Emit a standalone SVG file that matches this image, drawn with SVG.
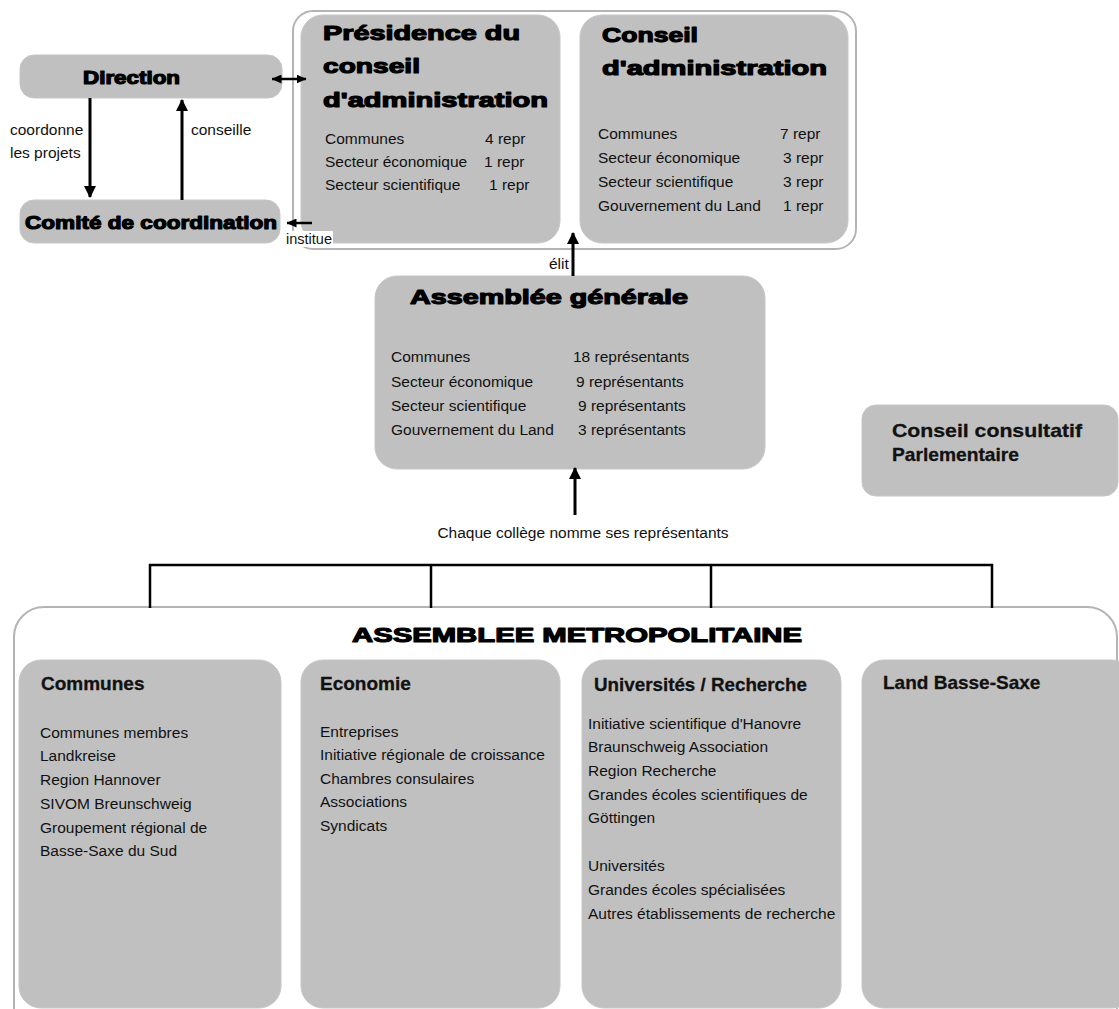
<svg xmlns="http://www.w3.org/2000/svg" width="1119" height="1009" viewBox="0 0 1119 1009">
<defs>
<marker id="ah" markerUnits="userSpaceOnUse" markerWidth="12" markerHeight="12" viewBox="0 0 12 12" refX="11" refY="6" orient="auto-start-reverse">
<path d="M0,0 L12,6 L0,12 z" fill="#000"/>
</marker>
<marker id="ahs" markerUnits="userSpaceOnUse" markerWidth="10" markerHeight="9" viewBox="0 0 10 9" refX="9.5" refY="4.5" orient="auto-start-reverse">
<path d="M0,0 L10,4.5 L0,9 z" fill="#000"/>
</marker>
</defs>
<style>
.box{fill:#c0c0c0;stroke:#c6c6c6;stroke-width:1}
.cont{fill:#fff;stroke:#b4b4b4;stroke-width:2}
.heavy{font-family:"Liberation Sans",Arial,sans-serif;font-weight:bold;fill:#000;stroke:#000;stroke-width:1.2;stroke-linejoin:round}
.hd{font-family:"Liberation Sans",Arial,sans-serif;font-weight:bold;font-size:19px;fill:#111;stroke:#111;stroke-width:0.3}
.t{font-family:"Liberation Sans",Arial,sans-serif;font-size:15.5px;fill:#111}
.conn{stroke:#000;fill:none}
</style>
<rect width="1119" height="1009" fill="#fff"/>

<g id="top-container">
<rect class="cont" x="293" y="11" width="563" height="238" rx="20"/>
</g>

<g id="direction">
<rect class="box" x="20" y="55" width="262" height="43" rx="14"/>
<text class="heavy" x="83" y="84" font-size="18" textLength="97" lengthAdjust="spacingAndGlyphs">Direction</text>
</g>

<g id="comite">
<rect class="box" x="20" y="200" width="260" height="43" rx="14"/>
<text class="heavy" x="25" y="229" font-size="19" textLength="252" lengthAdjust="spacingAndGlyphs">Comité de coordination</text>
</g>

<g id="presidence">
<rect class="box" x="301" y="15" width="259" height="228" rx="22"/>
<text class="heavy" x="323" y="40" font-size="21" textLength="197" lengthAdjust="spacingAndGlyphs">Présidence du</text>
<text class="heavy" x="323" y="73" font-size="21" textLength="97" lengthAdjust="spacingAndGlyphs">conseil</text>
<text class="heavy" x="323" y="107" font-size="21" textLength="225" lengthAdjust="spacingAndGlyphs">d'administration</text>
<text class="t" x="325" y="144">Communes</text><text class="t" x="485" y="144">4 repr</text>
<text class="t" x="325" y="167">Secteur économique</text><text class="t" x="484" y="167">1 repr</text>
<text class="t" x="325" y="190">Secteur scientifique</text><text class="t" x="489" y="190">1 repr</text>
</g>

<g id="conseil-administration">
<rect class="box" x="580" y="15" width="268" height="228" rx="22"/>
<text class="heavy" x="602" y="42" font-size="21" textLength="96" lengthAdjust="spacingAndGlyphs">Conseil</text>
<text class="heavy" x="602" y="75" font-size="21" textLength="225" lengthAdjust="spacingAndGlyphs">d'administration</text>
<text class="t" x="598" y="139">Communes</text><text class="t" x="780" y="139">7 repr</text>
<text class="t" x="598" y="163">Secteur économique</text><text class="t" x="783" y="163">3 repr</text>
<text class="t" x="598" y="187">Secteur scientifique</text><text class="t" x="783" y="187">3 repr</text>
<text class="t" x="598" y="211">Gouvernement du Land</text><text class="t" x="783" y="211">1 repr</text>
</g>

<g id="assemblee-generale">
<rect class="box" x="375" y="276" width="390" height="193" rx="22"/>
<text class="heavy" x="410" y="304" font-size="21" textLength="278" lengthAdjust="spacingAndGlyphs">Assemblée générale</text>
<text class="t" x="391" y="362">Communes</text><text class="t" x="573" y="362">18 représentants</text>
<text class="t" x="391" y="387">Secteur économique</text><text class="t" x="576" y="387">9 représentants</text>
<text class="t" x="391" y="411">Secteur scientifique</text><text class="t" x="578" y="411">9 représentants</text>
<text class="t" x="391" y="435">Gouvernement du Land</text><text class="t" x="578" y="435">3 représentants</text>
</g>

<g id="conseil-consultatif">
<rect class="box" x="862" y="405" width="256" height="91" rx="14"/>
<text class="hd" x="892" y="437" textLength="190" lengthAdjust="spacingAndGlyphs">Conseil consultatif</text>
<text class="hd" x="892" y="461" textLength="127" lengthAdjust="spacingAndGlyphs">Parlementaire</text>
</g>

<g id="assemblee-metropolitaine">
<rect class="cont" x="14" y="607" width="1103" height="440" rx="30"/>
<text class="heavy" x="352" y="642" font-size="21" textLength="450" lengthAdjust="spacingAndGlyphs">ASSEMBLEE METROPOLITAINE</text>
</g>

<g id="col-communes">
<rect class="box" x="19" y="660" width="262" height="348" rx="22"/>
<text class="hd" x="41" y="690">Communes</text>
<text class="t" x="40" y="738">Communes membres</text>
<text class="t" x="40" y="761">Landkreise</text>
<text class="t" x="40" y="785">Region Hannover</text>
<text class="t" x="40" y="809">SIVOM Breunschweig</text>
<text class="t" x="40" y="833">Groupement régional de</text>
<text class="t" x="40" y="856">Basse-Saxe du Sud</text>
</g>

<g id="col-economie">
<rect class="box" x="301" y="660" width="259" height="348" rx="22"/>
<text class="hd" x="320" y="690">Economie</text>
<text class="t" x="320" y="737">Entreprises</text>
<text class="t" x="320" y="760">Initiative régionale de croissance</text>
<text class="t" x="320" y="784">Chambres consulaires</text>
<text class="t" x="320" y="807">Associations</text>
<text class="t" x="320" y="831">Syndicats</text>
</g>

<g id="col-universites">
<rect class="box" x="582" y="660" width="259" height="348" rx="22"/>
<text class="hd" x="594" y="691" textLength="213" lengthAdjust="spacingAndGlyphs">Universités / Recherche</text>
<text class="t" x="588" y="729">Initiative scientifique d'Hanovre</text>
<text class="t" x="588" y="752">Braunschweig Association</text>
<text class="t" x="588" y="776">Region Recherche</text>
<text class="t" x="588" y="800">Grandes écoles scientifiques de</text>
<text class="t" x="588" y="823">Göttingen</text>
<text class="t" x="588" y="871">Universités</text>
<text class="t" x="588" y="895">Grandes écoles spécialisées</text>
<text class="t" x="588" y="919">Autres établissements de recherche</text>
</g>

<g id="col-land">
<rect class="box" x="862" y="660" width="272" height="348" rx="22"/>
<text class="hd" x="883" y="689">Land Basse-Saxe</text>
</g>

<g id="connectors">
<line class="conn" x1="90" y1="98" x2="90" y2="197" stroke-width="3" marker-end="url(#ah)"/>
<line class="conn" x1="182" y1="200" x2="182" y2="100" stroke-width="3" marker-end="url(#ah)"/>
<line class="conn" x1="272" y1="79" x2="306" y2="79" stroke-width="2.5" marker-start="url(#ahs)" marker-end="url(#ahs)"/>
<line class="conn" x1="312" y1="223" x2="287" y2="223" stroke-width="2.5" marker-end="url(#ahs)"/>
<line class="conn" x1="573" y1="276" x2="573" y2="233" stroke-width="3" marker-end="url(#ah)"/>
<line class="conn" x1="575" y1="515" x2="575" y2="468" stroke-width="3" marker-end="url(#ah)"/>
<path class="conn" d="M150,608 V565 H992 V608 M431,565 V608 M711,565 V608" stroke-width="2.5"/>
<text class="t" x="10" y="135">coordonne</text>
<text class="t" x="10" y="158">les projets</text>
<text class="t" x="191" y="135">conseille</text>
<rect x="285" y="231" width="48" height="16" fill="#fff"/>
<text class="t" x="286" y="244" font-size="14.5" textLength="46" lengthAdjust="spacingAndGlyphs">institue</text>
<text class="t" x="549" y="269" font-size="14">élit</text>
<text class="t" x="583" y="538" text-anchor="middle">Chaque collège nomme ses représentants</text>
</g>
</svg>
